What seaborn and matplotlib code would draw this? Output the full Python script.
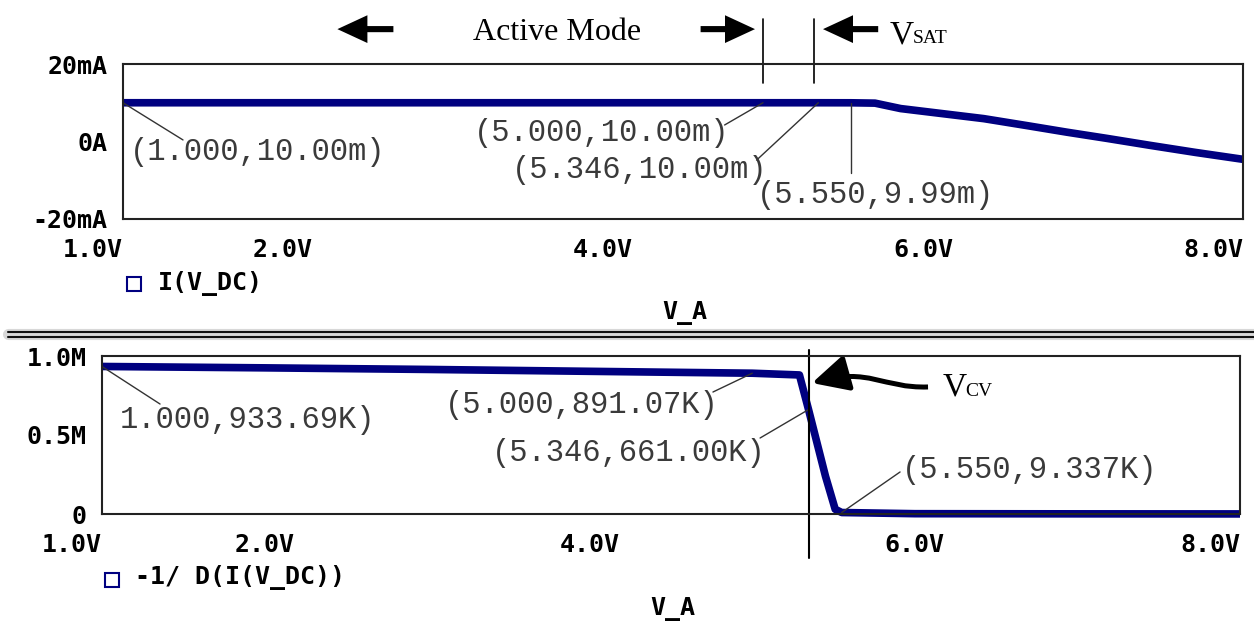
import numpy as np
import pandas as pd
import matplotlib.pyplot as plt
import seaborn as sns
from matplotlib.lines import Line2D
from matplotlib.patches import FancyArrowPatch
from matplotlib.path import Path

# --- dane odczytane z okna PSpice ---
# gorny wykres: I(V_DC) w mA w funkcji V_A
v_top = [1.0, 5.0, 5.346, 5.55, 5.70, 5.86, 6.10, 6.38, 6.65, 6.90, 7.15, 7.42, 7.70, 8.0]
i_top = [10.0, 10.0, 10.0, 9.99, 9.9, 8.5, 7.3, 5.9, 4.1, 2.4, 0.8, -1.0, -2.8, -4.6]

# dolny wykres: -1/D(I(V_DC)) w K
v_bot = [1.0, 2.0, 3.0, 4.0, 5.0, 5.29, 5.346, 5.45, 5.51, 5.55, 6.0, 7.0, 8.0]
r_bot = [933.69, 925.0, 915.0, 903.0, 891.07, 880.0, 661.0, 240.0, 30.0, 9.337, 2.0, 1.0, 0.5]

x_ticks = [1, 2, 4, 6, 8]
x_tick_lbl = ['1.0V', '2.0V', '4.0V', '6.0V', '8.0V']
top_yticks = [-20, 0, 20]
top_ytick_lbl = ['-20mA', '0A', '20mA']
bot_yticks = [0, 0.5, 1.0]
bot_ytick_lbl = ['0', '0.5M', '1.0M']

cursor_v = [1.0, 5.0, 5.346, 5.55]
top_cursor_lbl = ['(1.000,10.00m)', '(5.000,10.00m)', '(5.346,10.00m)', '(5.550,9.99m)']
bot_cursor_lbl = ['1.000,933.69K)', '(5.000,891.07K)', '(5.346,661.00K)', '(5.550,9.337K)']

df_top = pd.DataFrame({'V_A': v_top, 'I': i_top})
df_bot = pd.DataFrame({'V_A': v_bot, 'R': np.array(r_bot) / 1000.0})

sns.set_theme(style='white')
plt.rcParams['font.family'] = ['DejaVu Sans Mono']
plt.rcParams['font.weight'] = 'bold'

W, H = 1254, 621
fig = plt.figure(figsize=(W / 100, H / 100), dpi=100)
ax1 = fig.add_axes([123 / W, 1 - 219 / H, (1243 - 123) / W, (219 - 64) / H])
ax2 = fig.add_axes([102 / W, 1 - 514 / H, (1240 - 102) / W, (514 - 356) / H])

NAVY = '#000080'
sns.lineplot(data=df_top, x='V_A', y='I', ax=ax1, color=NAVY, linewidth=5.5)
sns.lineplot(data=df_bot, x='V_A', y='R', ax=ax2, color=NAVY, linewidth=5.5)
for ax in (ax1, ax2):
    for ln in ax.lines:
        ln.set_clip_on(False)
        ln.set_solid_capstyle('butt')

ax1.set_ylim(-20, 20)
ax1.set_yticks(top_yticks, top_ytick_lbl)
ax2.set_ylim(0, 1.0)
ax2.set_yticks(bot_yticks, bot_ytick_lbl)

for ax in (ax1, ax2):
    ax.set_xlim(1, 8)
    ax.set_xticks(x_ticks, x_tick_lbl)
    ax.set_xlabel('')
    ax.set_ylabel('')
    ax.set_facecolor('white')
    for sp in ax.spines.values():
        sp.set_color('#222222')
        sp.set_linewidth(1.5)
        sp.set_visible(True)
    ax.tick_params(direction='out', length=8, width=1.5, color='#222222',
                   labelsize=18, labelcolor='black')
    ax.tick_params(axis='x', pad=6)
    ax.tick_params(axis='y', pad=3)
    xl = ax.get_xticklabels()
    xl[0].set_ha('right')
    xl[-1].set_ha('right')

# --- kursory i opisy ---
ann = dict(family='Liberation Mono', weight='normal', fontsize=22, color='#3a3a3a',
           va='center', ha='left')
lead = dict(color='#333333', lw=1.0, clip_on=False)

top_elbow = [(1.375, 0.4), (4.76, 4.26), (4.96, -4.8), (5.55, -8.1)]
top_text = [(1.044, -2.7), (3.19, 2.2), (3.43, -7.35), (4.96, -13.8)]
for v, lbl, (ex, ey), (tx, ty) in zip(cursor_v, top_cursor_lbl, top_elbow, top_text):
    yv = np.interp(v, v_top, i_top)
    ax1.plot([v, ex], [yv, ey], **lead)
    ax1.text(tx, ty, lbl, **ann)

bot_elbow = [(1.357, 0.696), (4.758, 0.772), (5.048, 0.481), (5.909, 0.266)]
bot_text = [(1.111, 0.595), (3.11, 0.690), (3.40, 0.386), (5.921, 0.278)]
for v, lbl, (ex, ey), (tx, ty) in zip(cursor_v, bot_cursor_lbl, bot_elbow, bot_text):
    yv = np.interp(v, v_bot, df_bot['R'])
    ax2.plot([v, ex], [yv, ey], **lead)
    ax2.text(tx, ty, lbl, **ann)

# pionowe znaczniki
for v in (5.0, 5.32):
    ax1.plot([v, v], [15.1, 31.5], color='black', lw=1.2, clip_on=False)
ax2.plot([5.349, 5.349], [-0.278, 1.038], color='black', lw=1.5, clip_on=False)

# strzalki blokowe (wypelnione, bez obrysu)
blk = dict(arrowstyle='simple,head_length=1.08,head_width=1.0,tail_width=0.22',
           mutation_scale=20, lw=0, fc='black', ec='none', shrinkA=0, shrinkB=0)
ax1.annotate('', xy=(2.34, 29.0), xytext=(2.69, 29.0), arrowprops=blk, annotation_clip=False)
ax1.annotate('', xy=(4.95, 29.0), xytext=(4.61, 29.0), arrowprops=blk, annotation_clip=False)
ax1.annotate('', xy=(5.375, 29.0), xytext=(5.72, 29.0), arrowprops=blk, annotation_clip=False)

serif = dict(family='Liberation Serif', weight='normal', color='black', clip_on=False)
ax1.text(3.71, 26.3, 'Active Mode', fontsize=23, ha='center', va='baseline', **serif)
ax1.text(5.794, 25.4, 'V', fontsize=24, ha='left', va='baseline', **serif)
ax1.text(5.938, 25.4, 'SAT', fontsize=14, ha='left', va='baseline', **serif)

# krzywa strzalka V_CV
verts = [(6.081, 0.804), (5.80, 0.795), (5.72, 0.93), (5.367, 0.829)]
codes = [Path.MOVETO, Path.CURVE4, Path.CURVE4, Path.CURVE4]
arr = FancyArrowPatch(path=Path(verts, codes),
                      arrowstyle='-|>,head_length=1.1,head_width=0.55', mutation_scale=20,
                      lw=3.6, color='black', transform=ax2.transData, clip_on=False,
                      capstyle='butt', joinstyle='round')
ax2.add_patch(arr)
ax2.text(6.173, 0.753, 'V', fontsize=24, ha='left', va='baseline', **serif)
ax2.text(6.31, 0.747, 'CV', fontsize=14, ha='left', va='baseline', **serif)

# legendy i opisy osi
mono = dict(family='DejaVu Sans Mono', weight='bold', fontsize=18, color='black')
fig.add_artist(Line2D([133.5 / W], [1 - 283.5 / H], marker='s', ms=10, mfc='none',
                      mec=NAVY, mew=1.5, ls='none'))
fig.text(158 / W, 1 - 283 / H, 'I(V_DC)', ha='left', va='center', **mono)
fig.add_artist(Line2D([112 / W], [1 - 579.5 / H], marker='s', ms=10, mfc='none',
                      mec=NAVY, mew=1.5, ls='none'))
fig.text(135 / W, 1 - 578 / H, '-1/ D(I(V_DC))', ha='left', va='center', **mono)
fig.text(685 / W, 1 - 313 / H, 'V_A', ha='center', va='center', **mono)
fig.text(673 / W, 1 - 609 / H, 'V_A', ha='center', va='center', **mono)

# separator miedzy oknami
fig.add_artist(Line2D([8 / W, 1], [1 - 334 / H] * 2, lw=8, color='#d8d8d8'))
fig.add_artist(Line2D([8 / W, 1], [1 - 331.5 / H] * 2, lw=1.5, color='#111111'))
fig.add_artist(Line2D([8 / W, 1], [1 - 336.5 / H] * 2, lw=1.5, color='#111111'))

fig.savefig('out.png', dpi=100, facecolor='white')
